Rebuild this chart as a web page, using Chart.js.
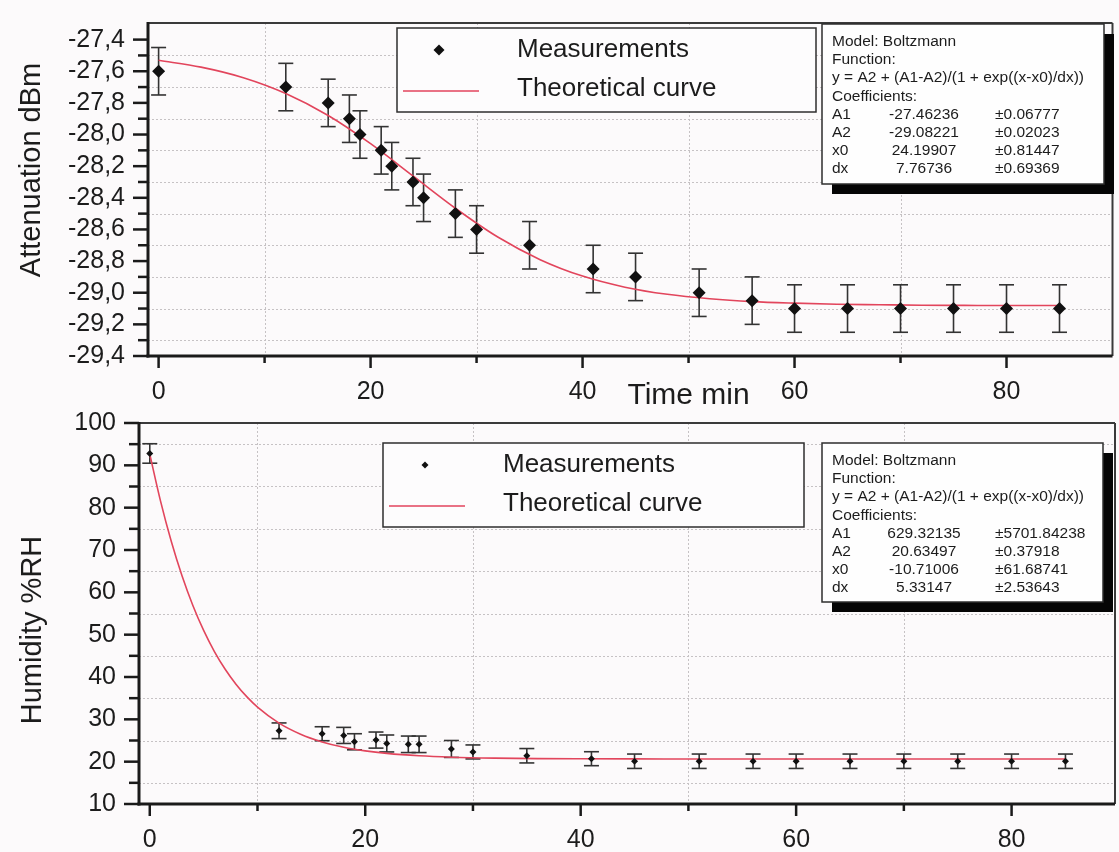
<!DOCTYPE html>
<html>
<head>
<meta charset="utf-8">
<script src="https://cdn.jsdelivr.net/npm/chart.js@4/dist/chart.umd.min.js"></script>
<style>
  html, body { margin: 0; padding: 0; background: #fcfafb; }
  #wrap { position: relative; width: 1119px; height: 852px; overflow: hidden; background: #fcfafb; }
  canvas { position: absolute; left: 0; }
  #topChart { top: 0; }
  #bottomChart { top: 400px; }
</style>
</head>
<body>
<div id="wrap">
  <canvas id="topChart" width="1119" height="410"></canvas>
  <canvas id="bottomChart" width="1119" height="452"></canvas>
</div>
<script>
// ---------------- data ----------------
const timeMin = [0, 12, 16, 18, 19, 21, 22, 24, 25, 28, 30, 35, 41, 45, 51, 56, 60, 65, 70, 75, 80, 85];

const attenuation = [-27.6, -27.7, -27.8, -27.9, -28.0, -28.1, -28.2, -28.3, -28.4, -28.5, -28.6,
                     -28.7, -28.85, -28.9, -29.0, -29.05, -29.1, -29.1, -29.1, -29.1, -29.1, -29.1];
const attenuationErr = [0.15, 0.15, 0.15, 0.15, 0.15, 0.15, 0.15, 0.15, 0.15, 0.15, 0.15,
                        0.15, 0.15, 0.15, 0.15, 0.15, 0.15, 0.15, 0.15, 0.15, 0.15, 0.15];

const humidity = [92.8, 27.3, 26.6, 26.2, 24.7, 25.1, 24.3, 24.1, 24.1, 23.0, 22.3,
                  21.4, 20.7, 20.1, 20.1, 20.1, 20.1, 20.1, 20.1, 20.1, 20.1, 20.1];
const humidityErr = [2.3, 1.85, 1.65, 1.9, 1.9, 1.9, 2.0, 1.95, 1.95, 2.0, 1.65,
                     1.7, 1.65, 1.7, 1.7, 1.7, 1.7, 1.7, 1.7, 1.7, 1.7, 1.7];

// theoretical (fitted) curves
const fitTimeTop = [0, 4, 8, 12, 16, 20, 24, 28, 32, 36, 40, 44, 48, 52, 56, 60, 64, 68, 72, 76, 80, 85];
const attenuationFit = [-27.531, -27.574, -27.641, -27.741, -27.880, -28.058, -28.262, -28.466, -28.648,
                        -28.791, -28.895, -28.965, -29.010, -29.038, -29.056, -29.066, -29.073, -29.076,
                        -29.079, -29.080, -29.081, -29.081];

const fitTimeBottom = [0, 1, 2, 3, 4, 5, 6, 7, 8, 9, 10, 12, 14, 16, 18, 20, 22, 25, 28, 32, 36, 40, 45, 50, 60, 70, 85];
const humidityFit = [92.63, 81.55, 72.00, 63.84, 56.89, 51.00, 46.02, 41.84, 38.31, 35.36, 32.89, 29.11,
                     26.49, 24.67, 23.41, 22.55, 21.95, 21.38, 21.06, 20.84, 20.73, 20.68, 20.65, 20.64,
                     20.635, 20.635, 20.635];

// ticks
const xTickValues = [0, 10, 20, 30, 40, 50, 60, 70, 80, 90];
const xTickLabels = ['0', '', '20', '', '40', '', '60', '', '80', ''];

const attTickValues = [-29.4, -29.3, -29.2, -29.1, -29.0, -28.9, -28.8, -28.7, -28.6, -28.5, -28.4,
                       -28.3, -28.2, -28.1, -28.0, -27.9, -27.8, -27.7, -27.6, -27.5, -27.4];
const attTickLabels = ['-29,4', '', '-29,2', '', '-29,0', '', '-28,8', '', '-28,6', '', '-28,4',
                       '', '-28,2', '', '-28,0', '', '-27,8', '', '-27,6', '', '-27,4'];

const humTickValues = [10, 15, 20, 25, 30, 35, 40, 45, 50, 55, 60, 65, 70, 75, 80, 85, 90, 95, 100];
const humTickLabels = ['10', '', '20', '', '30', '', '40', '', '50', '', '60', '', '70', '', '80', '', '90', '', '100'];

// labels / texts
const seriesLabels = ['Measurements', 'Theoretical curve'];
const xAxisTitle = 'Time min';
const topYTitle = 'Attenuation dBm';
const bottomYTitle = 'Humidity %RH';
const fitHeader = ['Model: Boltzmann', 'Function:', 'y = A2 + (A1-A2)/(1 + exp((x-x0)/dx))', 'Coefficients:'];
const topParamNames = ['A1', 'A2', 'x0', 'dx'];
const topParamValues = ['-27.46236', '-29.08221', '24.19907', '7.76736'];
const topParamErrors = ['\u00b10.06777', '\u00b10.02023', '\u00b10.81447', '\u00b10.69369'];
const bottomParamNames = ['A1', 'A2', 'x0', 'dx'];
const bottomParamValues = ['629.32135', '20.63497', '-10.71006', '5.33147'];
const bottomParamErrors = ['\u00b15701.84238', '\u00b10.37918', '\u00b161.68741', '\u00b12.53643'];

// ---------------- styling ----------------
const FONT = "'Liberation Sans', Arial, Helvetica, sans-serif";
const BG = '#fcfafb';
const INK = '#1c1c1c';
const CURVE = '#e2455c';

function line(ctx, x1, y1, x2, y2) {
  ctx.beginPath(); ctx.moveTo(x1, y1); ctx.lineTo(x2, y2); ctx.stroke();
}
function diamond(ctx, x, y, r) {
  ctx.beginPath();
  ctx.moveTo(x, y - r); ctx.lineTo(x + r, y); ctx.lineTo(x, y + r); ctx.lineTo(x - r, y);
  ctx.closePath(); ctx.fill();
}

function decorPlugin(cfg) {
  return {
    id: 'decor',
    beforeDatasetsDraw(chart) {
      const ctx = chart.ctx, a = chart.chartArea, xs = chart.scales.x, ys = chart.scales.y;
      ctx.save();
      // dotted grid at minor ticks
      ctx.strokeStyle = '#c6c2c4'; ctx.lineWidth = 1; ctx.setLineDash([2, 2]);
      xs.ticks.forEach(t => {
        if (!t.label) { const p = Math.round(xs.getPixelForValue(t.value)) + 0.5; line(ctx, p, a.top, p, a.bottom); }
      });
      ys.ticks.forEach(t => {
        if (!t.label) { const p = Math.round(ys.getPixelForValue(t.value)) + 0.5; line(ctx, a.left, p, a.right, p); }
      });
      ctx.setLineDash([]);
      // error bars
      ctx.strokeStyle = '#333'; ctx.lineWidth = 1.6;
      cfg.times.forEach((t, i) => {
        const px = xs.getPixelForValue(t);
        const y1 = ys.getPixelForValue(cfg.values[i] + cfg.errors[i]);
        const y2 = ys.getPixelForValue(cfg.values[i] - cfg.errors[i]);
        line(ctx, px, y1, px, y2);
        line(ctx, px - cfg.cap, y1, px + cfg.cap, y1);
        line(ctx, px - cfg.cap, y2, px + cfg.cap, y2);
      });
      ctx.restore();
    },
    afterDraw(chart) {
      const ctx = chart.ctx, a = chart.chartArea, xs = chart.scales.x, ys = chart.scales.y;
      ctx.save();
      // frame
      ctx.strokeStyle = '#3a3a3a'; ctx.lineWidth = 2;
      line(ctx, a.left, a.top, a.right, a.top);
      line(ctx, a.right, a.top, a.right, a.bottom);
      ctx.strokeStyle = '#1a1a1a'; ctx.lineWidth = 3;
      line(ctx, a.left, a.top - 1, a.left, a.bottom + 1.5);
      line(ctx, a.left - 1.5, a.bottom, a.right, a.bottom);
      // tick marks
      ctx.lineWidth = 2.5;
      ys.ticks.forEach(t => {
        const p = ys.getPixelForValue(t.value);
        line(ctx, a.left - (t.label ? 15 : 10), p, a.left, p);
      });
      xs.ticks.forEach(t => {
        const p = xs.getPixelForValue(t.value);
        line(ctx, p, a.bottom, p, a.bottom + (t.label ? 12 : 7));
      });
      // y title
      ctx.fillStyle = INK; ctx.font = '29px ' + FONT;
      ctx.textAlign = 'center'; ctx.textBaseline = 'middle';
      ctx.save();
      ctx.translate(cfg.yTitle.x, cfg.yTitle.y); ctx.rotate(-Math.PI / 2);
      ctx.fillText(cfg.yTitle.text, 0, 0);
      ctx.restore();
      // x title (inside the tick label row, between 40 and 60)
      if (cfg.xTitle) {
        ctx.font = '30px ' + FONT;
        ctx.fillText(cfg.xTitle.text, xs.getPixelForValue(cfg.xTitle.atValue), cfg.xTitle.y);
      }
      // legend box
      const L = cfg.legend, ds = chart.data.datasets;
      ctx.fillStyle = '#fdfcfd'; ctx.fillRect(L.x, L.y, L.w, L.h);
      ctx.strokeStyle = '#2e2e2e'; ctx.lineWidth = 1.5; ctx.strokeRect(L.x, L.y, L.w, L.h);
      ctx.fillStyle = ds[0].backgroundColor;
      diamond(ctx, L.x + 42, L.y + 22, L.markerR);
      ctx.strokeStyle = ds[1].borderColor; ctx.lineWidth = 1.6;
      line(ctx, L.x + 6, L.y + 63, L.x + 82, L.y + 63);
      ctx.fillStyle = INK; ctx.font = '26px ' + FONT; ctx.textAlign = 'left';
      ctx.fillText(ds[0].label, L.x + 120, L.y + 22);
      ctx.fillText(ds[1].label, L.x + 120, L.y + 61);
      // fit info box
      const B = cfg.info;
      ctx.fillStyle = '#050505'; ctx.fillRect(B.x + 10, B.y + 10, B.w, B.h);
      ctx.fillStyle = '#fefefe'; ctx.fillRect(B.x, B.y, B.w, B.h);
      ctx.strokeStyle = '#2e2e2e'; ctx.lineWidth = 1.5; ctx.strokeRect(B.x, B.y, B.w, B.h);
      ctx.fillStyle = INK; ctx.font = '15.5px ' + FONT; ctx.textBaseline = 'middle';
      const row0 = B.y + 18, dy = 18.1;
      fitHeader.forEach((s, i) => { ctx.textAlign = 'left'; ctx.fillText(s, B.x + 10, row0 + i * dy); });
      B.names.forEach((n, i) => {
        const yy = row0 + (i + 4) * dy;
        ctx.textAlign = 'left'; ctx.fillText(n, B.x + 10, yy);
        ctx.textAlign = 'center'; ctx.fillText(B.vals[i], B.x + 102, yy);
        ctx.textAlign = 'left'; ctx.fillText(B.errs[i], B.x + 173, yy);
      });
      ctx.restore();
    }
  };
}

function buildChart(canvasId, cfg) {
  const tickFont = { family: FONT, size: 25 };
  return new Chart(document.getElementById(canvasId), {
    type: 'scatter',
    data: {
      datasets: [
        {
          label: seriesLabels[0],
          data: cfg.times.map((t, i) => ({ x: t, y: cfg.values[i] })),
          pointStyle: 'rectRot', pointRadius: cfg.markerR, borderWidth: 0,
          backgroundColor: '#111', borderColor: '#111', showLine: false
        },
        {
          label: seriesLabels[1],
          data: cfg.fitX.map((t, i) => ({ x: t, y: cfg.fitY[i] })),
          showLine: true, pointRadius: 0, borderColor: CURVE, backgroundColor: CURVE,
          borderWidth: 1.6, cubicInterpolationMode: 'monotone', fill: false
        }
      ]
    },
    options: {
      responsive: false, animation: false, events: [],
      layout: { padding: cfg.padding },
      plugins: { legend: { display: false }, tooltip: { enabled: false } },
      scales: {
        x: {
          type: 'linear', min: cfg.xMin, max: cfg.xMax,
          afterBuildTicks: s => { s.ticks = xTickValues.filter(v => v >= s.min && v < s.max).map(v => ({ value: v })); },
          afterFit: s => { s.height = cfg.xAxisHeight; },
          ticks: {
            autoSkip: false, maxRotation: 0, minRotation: 0, padding: 9, color: INK, font: tickFont,
            callback: v => xTickLabels[xTickValues.indexOf(v)] || ''
          },
          grid: { color: 'transparent', drawTicks: true, tickLength: 12, tickColor: 'transparent' },
          border: { display: false }
        },
        y: {
          type: 'linear', min: cfg.yMin, max: cfg.yMax,
          afterBuildTicks: s => { s.ticks = cfg.yTicks.filter(v => v >= s.min && v <= s.max).map(v => ({ value: v })); },
          afterFit: s => { s.width = cfg.yAxisWidth; },
          ticks: {
            autoSkip: false, padding: 8, color: INK, font: tickFont,
            callback: v => cfg.yLabels[cfg.yTicks.indexOf(v)] || ''
          },
          grid: { color: 'transparent', drawTicks: true, tickLength: 15, tickColor: 'transparent' },
          border: { display: false }
        }
      }
    },
    plugins: [decorPlugin(cfg)]
  });
}

buildChart('topChart', {
  times: timeMin, values: attenuation, errors: attenuationErr,
  fitX: fitTimeTop, fitY: attenuationFit,
  xMin: -1, xMax: 90, yMin: -29.4, yMax: -27.295,
  yTicks: attTickValues, yLabels: attTickLabels,
  padding: { top: 15, right: 1, left: 0, bottom: 0 },
  yAxisWidth: 148, xAxisHeight: 54,
  markerR: 6.5, cap: 7.5,
  yTitle: { text: topYTitle, x: 32, y: 170 },
  xTitle: { text: xAxisTitle, atValue: 50, y: 396 },
  legend: { x: 397, y: 28, w: 419, h: 84, markerR: 5.5 },
  info: { x: 822, y: 24, w: 282, h: 160, names: topParamNames, vals: topParamValues, errs: topParamErrors }
});

buildChart('bottomChart', {
  times: timeMin, values: humidity, errors: humidityErr,
  fitX: fitTimeBottom, fitY: humidityFit,
  xMin: -1, xMax: 89.6, yMin: 10, yMax: 100,
  yTicks: humTickValues, yLabels: humTickLabels,
  padding: { top: 22, right: 2, left: 0, bottom: 0 },
  yAxisWidth: 139, xAxisHeight: 48,
  markerR: 3.5, cap: 7.5,
  yTitle: { text: bottomYTitle, x: 33, y: 230 },
  xTitle: null,
  legend: { x: 383, y: 43, w: 421, h: 84, markerR: 3.5 },
  info: { x: 822, y: 43, w: 281, h: 159, names: bottomParamNames, vals: bottomParamValues, errs: bottomParamErrors }
});
</script>
</body>
</html>
